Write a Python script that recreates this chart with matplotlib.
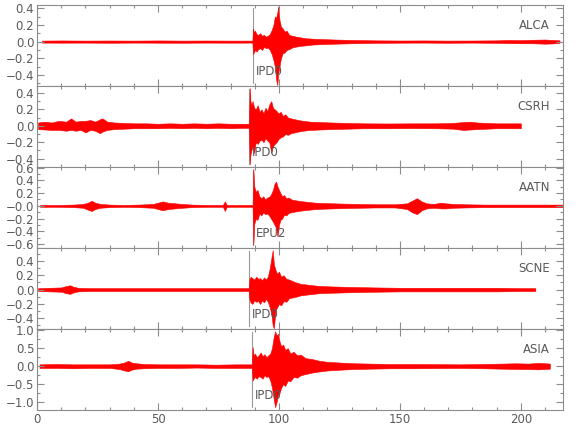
import numpy as np
import matplotlib
matplotlib.use("Agg")
import matplotlib.pyplot as plt
from matplotlib.ticker import MultipleLocator

# station names, pick labels and pick times (s)
stations = ["ALCA", "CSRH", "AATN", "SCNE", "ASIA"]
pick_labels = ["IPD0", "IPD0", "EPU2", "IPD0", "IPD0"]
pick_times = [89.3, 87.8, 89.3, 87.7, 89.0]
y_limits = [(-0.53, 0.44), (-0.50, 0.485), (-0.66, 0.61), (-0.55, 0.58), (-1.22, 1.03)]

# y tick values / labels per panel
y_ticks = [
    [-0.4, -0.2, 0.0, 0.2, 0.4],
    [-0.4, -0.2, 0.0, 0.2, 0.4],
    [-0.6, -0.4, -0.2, 0.0, 0.2, 0.4, 0.6],
    [-0.4, -0.2, 0.0, 0.2, 0.4],
    [-1.0, -0.5, 0.0, 0.5, 1.0],
]
y_ticklabels = [
    ["\u22120.4", "\u22120.2", "0.0", "0.2", "0.4"],
    ["\u22120.4", "\u22120.2", "0.0", "0.2", "0.4"],
    ["\u22120.6", "\u22120.4", "\u22120.2", "\u22120.0", "0.2", "0.4", "0.6"],
    ["\u22120.4", "\u22120.2", "0.0", "0.2", "0.4"],
    ["\u22121.0", "\u22120.5", "0.0", "0.5", "1.0"],
]
y_minor = [0.1, 0.1, 0.1, 0.1, 0.25]

# trace envelopes: time, upper, lower
t1 = [2, 10, 20, 30, 40, 50, 60, 70, 80, 89.0, 89.3, 89.6, 90.1, 90.7, 91.4, 92.2, 93.0, 93.8, 94.6,
      95.4, 96.2, 97.0, 97.7, 98.3, 98.8, 99.3, 99.7, 100.2, 100.8, 101.5, 102.3, 103.2, 104.2, 105.5,
      107, 109, 111, 114, 118, 123, 130, 140, 150, 160, 170, 180, 190, 195, 200, 205, 210, 213, 216]
u1 = [.012, .014, .012, .013, .012, .014, .012, .013, .012, .012, .16, .11, .13, .09, .08, .1, .07, .08, .06,
      .07, .09, .14, .2, .3, .28, .35, .42, .26, .18, .16, .12, .13, .08, .07, .06, .05, .04, .035, .03,
      .025, .02, .015, .013, .014, .012, .013, .015, .02, .018, .022, .025, .02, .015]
l1 = [-.012, -.013, -.012, -.014, -.012, -.013, -.014, -.012, -.013, -.012, -.15, -.13, -.1, -.12, -.09,
      -.08, -.1, -.06, -.08, -.07, -.1, -.15, -.22, -.3, -.45, -.52, -.38, -.3, -.2, -.14, -.13, -.1, -.09,
      -.07, -.06, -.05, -.045, -.035, -.03, -.025, -.02, -.015, -.013, -.012, -.014, -.012, -.015, -.018,
      -.02, -.02, -.025, -.022, -.015]

t2 = [0.4, 3, 6, 9, 12, 14, 16, 18, 20, 22, 24, 26, 27, 29, 32, 36, 40, 45, 50, 55, 60, 65, 70, 75, 80,
      84, 87.6, 87.9, 88.2, 88.6, 89.1, 89.7, 90.4, 91.2, 92.0, 92.8, 93.6, 94.4, 95.2, 96.0, 96.8, 97.5,
      98.2, 99.0, 99.8, 100.7, 101.6, 102.6, 103.7, 105, 106.5, 108, 110, 113, 117, 122, 128, 135, 145,
      155, 165, 172, 176, 179, 182, 186, 190, 195, 200]
u2 = [.04, .05, .04, .06, .05, .09, .05, .06, .06, .07, .05, .08, .09, .05, .04, .035, .03, .03, .025, .03,
      .025, .03, .025, .03, .025, .025, .025, .46, .3, .25, .3, .22, .2, .25, .17, .2, .15, .22, .18, .26,
      .3, .22, .2, .18, .15, .17, .12, .14, .1, .09, .08, .07, .06, .05, .045, .04, .035, .03, .028, .03,
      .03, .035, .045, .05, .04, .035, .03, .03, .03]
l2 = [-.04, -.045, -.05, -.05, -.06, -.05, -.06, -.05, -.08, -.05, -.06, -.09, -.07, -.05, -.04, -.035,
      -.03, -.03, -.03, -.025, -.03, -.025, -.03, -.025, -.03, -.025, -.025, -.47, -.35, -.3, -.25, -.33,
      -.2, -.22, -.18, -.17, -.2, -.15, -.18, -.2, -.33, -.25, -.22, -.2, -.16, -.14, -.13, -.1, -.11,
      -.09, -.08, -.07, -.06, -.05, -.045, -.04, -.035, -.03, -.03, -.028, -.03, -.035, -.05, -.045, -.04,
      -.035, -.03, -.03, -.03]

t3 = [1.2, 8, 15, 19, 21, 22.6, 24, 26, 30, 36, 42, 48, 50, 52, 54, 57, 60, 64, 70, 76.8, 77.6, 78.4, 84,
      89.1, 89.4, 89.8, 90.4, 91.1, 91.9, 92.7, 93.5, 94.3, 95.1, 95.9, 96.7, 97.5, 98.2, 98.8, 99.4,
      100.0, 100.6, 101.3, 102.1, 103, 104, 105.2, 106.5, 108, 110, 112.5, 115, 118, 122, 127, 133, 140,
      148, 153, 155, 157, 159, 161, 164, 167, 169, 172, 177, 185, 195, 205, 217.5]
u3 = [.015, .015, .02, .03, .05, .08, .05, .03, .02, .015, .02, .03, .05, .07, .05, .04, .03, .02, .015,
      .015, .07, .015, .015, .015, .58, .3, .22, .25, .15, .12, .15, .1, .13, .14, .18, .25, .35, .38, .3,
      .25, .2, .15, .17, .12, .13, .1, .09, .08, .07, .06, .05, .045, .04, .035, .03, .025, .025, .04, .08,
      .12, .07, .04, .03, .05, .04, .03, .025, .02, .02, .02, .02]
l3 = [-.015, -.015, -.02, -.03, -.06, -.08, -.05, -.03, -.02, -.015, -.02, -.03, -.05, -.07, -.05, -.04,
      -.03, -.02, -.015, -.015, -.08, -.015, -.015, -.015, -.61, -.28, -.2, -.22, -.12, -.15, -.1, -.13,
      -.12, -.15, -.2, -.25, -.3, -.35, -.48, -.3, -.22, -.2, -.14, -.15, -.11, -.1, -.09, -.08, -.07,
      -.06, -.05, -.045, -.04, -.035, -.03, -.025, -.025, -.05, -.1, -.13, -.07, -.04, -.03, -.04, -.04,
      -.03, -.025, -.02, -.02, -.02, -.02]

t4 = [0.4, 5, 10, 12, 13.6, 15, 17, 22, 30, 40, 50, 60, 70, 80, 87.5, 87.8, 88.3, 89.0, 89.8, 90.6, 91.4,
      92.2, 93.0, 93.8, 94.6, 95.4, 96.2, 96.9, 97.4, 97.9, 98.5, 99.2, 100, 100.9, 101.9, 103, 104.2,
      105.5, 107, 109, 111.5, 114, 117, 121, 126, 132, 140, 150, 160, 170, 180, 190, 200, 206]
u4 = [.02, .025, .03, .05, .06, .04, .025, .02, .02, .02, .02, .02, .02, .02, .02, .15, .18, .16, .14, .18,
      .15, .16, .13, .17, .14, .18, .3, .45, .55, .35, .28, .22, .25, .18, .2, .15, .14, .12, .1, .08,
      .07, .06, .05, .045, .04, .035, .03, .025, .025, .025, .025, .025, .02, .02]
l4 = [-.02, -.025, -.03, -.05, -.06, -.04, -.025, -.02, -.02, -.02, -.02, -.02, -.02, -.02, -.02, -.14,
      -.18, -.2, -.15, -.17, -.16, -.2, -.15, -.18, -.13, -.17, -.25, -.35, -.5, -.54, -.3, -.25, -.2,
      -.22, -.16, -.17, -.12, -.11, -.1, -.08, -.07, -.06, -.05, -.045, -.04, -.035, -.03, -.025, -.025,
      -.025, -.025, -.025, -.02, -.02]

t5 = [1, 8, 15, 22, 30, 34, 36, 37.7, 39, 41, 44, 50, 58, 66, 74, 82, 88.8, 89.1, 89.5, 90.1, 90.8, 91.6,
      92.4, 93.2, 94.0, 94.8, 95.6, 96.4, 97.1, 97.8, 98.4, 99.0, 99.6, 100.2, 100.9, 101.7, 102.6, 103.6,
      104.7, 106, 107.5, 109, 111, 113.5, 116.5, 120, 125, 131, 138, 146, 155, 165, 175, 185, 192, 198,
      203, 207, 210, 212]
u5 = [.05, .06, .05, .05, .05, .07, .1, .15, .1, .08, .06, .05, .05, .05, .04, .05, .05, .53, .3, .35, .25,
      .3, .38, .28, .33, .25, .3, .35, .5, .8, .97, .85, .9, .7, .55, .6, .45, .5, .35, .4, .3, .32, .22,
      .2, .15, .12, .1, .08, .07, .06, .06, .055, .05, .06, .07, .08, .07, .09, .08, .07]
l5 = [-.05, -.05, -.06, -.05, -.05, -.08, -.12, -.14, -.1, -.07, -.06, -.05, -.05, -.04, -.05, -.05, -.05,
      -.4, -.35, -.3, -.35, -.28, -.3, -.35, -.25, -.3, -.28, -.4, -.6, -.9, -1.14, -1.0, -.8, -.75, -.6,
      -.5, -.55, -.4, -.42, -.3, -.32, -.25, -.22, -.18, -.15, -.12, -.1, -.08, -.07, -.06, -.06, -.055,
      -.05, -.06, -.07, -.08, -.08, -.09, -.08, -.07]

traces = [(t1, u1, l1), (t2, u2, l2), (t3, u3, l3), (t4, u4, l4), (t5, u5, l5)]

axis_gray = '#8c8c8c'
text_gray = '#5a5a5a'

fig, axes = plt.subplots(5, 1, figsize=(5.8, 4.4), dpi=100, sharex=True)
fig.subplots_adjust(left=0.064, right=0.971, top=0.989, bottom=0.068, hspace=0)

for i, ax in enumerate(axes):
    t, up, lo = traces[i]
    ax.fill_between(t, lo, up, color='red', lw=0.4, edgecolor='red')
    ax.axvline(pick_times[i], ymin=0.04, ymax=0.96, color='#999999', lw=0.8, zorder=0)
    ax.text(pick_times[i] + 1.0, 0.18, pick_labels[i], transform=ax.get_xaxis_transform(),
            ha='left', va='center', fontsize=8.5, color=text_gray)
    ax.text(0.975, 0.75, stations[i], transform=ax.transAxes, ha='right', va='center',
            fontsize=8.5, color=text_gray)

    ax.set_xlim(0, 217.5)
    ax.set_ylim(*y_limits[i])
    ax.set_yticks(y_ticks[i], y_ticklabels[i])
    ax.yaxis.set_minor_locator(MultipleLocator(y_minor[i]))
    ax.xaxis.set_major_locator(MultipleLocator(50))
    ax.xaxis.set_minor_locator(MultipleLocator(10))
    ax.tick_params(which='both', direction='in', top=True, right=True, color=axis_gray,
                   labelcolor=text_gray, labelsize=8.5, width=0.8, pad=2)
    ax.tick_params(which='major', length=5)
    ax.tick_params(which='minor', length=2.5)
    for sp in ax.spines.values():
        sp.set_color(axis_gray)
        sp.set_linewidth(0.8)

axes[-1].set_xticks([0, 50, 100, 150, 200])

fig.savefig("out.png", dpi=100)
